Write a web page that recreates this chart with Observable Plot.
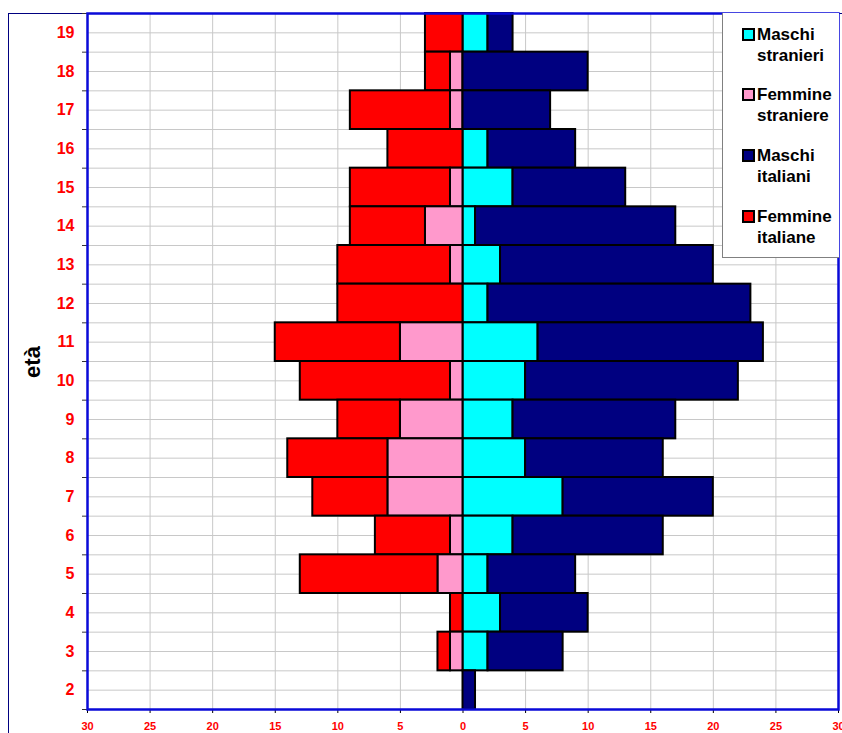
<!DOCTYPE html>
<html>
<head>
<meta charset="utf-8">
<script src="https://cdn.jsdelivr.net/npm/d3@7"></script>
<script src="https://cdn.jsdelivr.net/npm/@observablehq/plot@0.6"></script>
<style>
  html, body { margin: 0; padding: 0; background: #fff; overflow: hidden; }
  #wrap { position: relative; width: 842px; height: 733px; overflow: hidden; font-family: "Liberation Sans", Arial, sans-serif; }
  #outer { position: absolute; left: 8px; top: 13px; width: 900px; height: 800px; border: 1.5px solid #000080; box-sizing: border-box; }
  #chart { position: absolute; left: 0; top: 0; }
  #ytitle { position: absolute; left: 33px; top: 362px; transform: translate(-50%, -50%) rotate(-90deg); font-weight: bold; font-size: 22px; color: #000; white-space: nowrap; }
  #legend { position: absolute; left: 722px; top: 13px; width: 117px; height: 245px; border: 1.5px solid #808080; border-top: none; border-right: none; background: #fff; box-sizing: border-box; }
  .item { position: absolute; left: 34px; font-weight: bold; font-size: 17px; line-height: 21px; color: #000; white-space: nowrap; }
  .sw { position: absolute; width: 13px; height: 13px; border: 2px solid #000; box-sizing: border-box; left: 19px; }
</style>
</head>
<body>
<div id="wrap">
  <div id="outer"></div>
  <div id="chart"></div>
  <div id="ytitle">età</div>
  <div id="legend"></div>
</div>
<script>
// Ages (top to bottom)
const ages = [19, 18, 17, 16, 15, 14, 13, 12, 11, 10, 9, 8, 7, 6, 5, 4, 3, 2];
// Values per age, same order as ages
const maschiStranieri  = [2, 0, 0, 2, 4, 1, 3, 2, 6, 5, 4, 5, 8, 4, 2, 3, 2, 0];
const femmineStraniere = [0, 1, 1, 0, 1, 3, 1, 0, 5, 1, 5, 6, 6, 1, 2, 0, 1, 0];
const maschiItaliani   = [2, 10, 7, 7, 9, 16, 17, 21, 18, 17, 13, 11, 12, 12, 7, 7, 6, 1];
const femmineItaliane  = [3, 2, 8, 6, 8, 6, 9, 10, 10, 12, 5, 8, 6, 6, 11, 1, 1, 0];

const seriesNames = ["Maschi stranieri", "Femmine straniere", "Maschi italiani", "Femmine italiane"];
const seriesColors = ["#00ffff", "#ff99cc", "#000080", "#ff0000"];
const seriesValues = [maschiStranieri, femmineStraniere, maschiItaliani, femmineItaliane];
const seriesSign = [1, -1, 1, -1];

const xTicks = d3.range(-30, 31, 5);
const yBoundaries = d3.range(1.5, 20, 1);
const yGrid = d3.range(1.5, 19.6, 0.5);

const data = [];
ages.forEach((age, i) => {
  seriesNames.forEach((s, k) => {
    const v = seriesValues[k][i];
    if (v > 0) data.push({age, series: s, value: seriesSign[k] * v});
  });
});

const stacked = Plot.stackX({x: "value", y: "age", order: null});

const chart = Plot.plot({
  width: 842,
  height: 733,
  marginLeft: 87,
  marginRight: 4,
  marginTop: 13,
  marginBottom: 24,
  style: {fontFamily: "'Liberation Sans', Arial, sans-serif", background: "transparent"},
  x: {domain: [-30, 30], axis: null},
  y: {domain: [1.5, 19.5], axis: null},
  color: {domain: seriesNames, range: seriesColors},
  marks: [
    Plot.gridX(xTicks, {stroke: "#c8c8c8", strokeOpacity: 1, strokeWidth: 1}),
    Plot.gridY(yGrid, {stroke: "#c8c8c8", strokeOpacity: 1, strokeWidth: 1}),
    Plot.rect(data, {
      ...stacked,
      y1: d => d.age - 0.5,
      y2: d => d.age + 0.5,
      fill: "series",
      stroke: "#000",
      strokeWidth: 2
    }),
    Plot.axisX(xTicks, {
      tickSize: 4, tickPadding: 9, tickFormat: d => Math.abs(d),
      fill: "#ff0000", stroke: "#000", fontSize: 11, fontWeight: "bold", label: null
    }),
    Plot.axisY(ages, {
      tickSize: 0, tickPadding: 13, fill: "#ff0000", fontSize: 16, fontWeight: "bold", label: null
    }),
    Plot.axisY(yBoundaries, {
      tickSize: 5, tickFormat: () => "", stroke: "#333", label: null
    }),
    Plot.frame({stroke: "#0a0ad8", strokeWidth: 2.5})
  ]
});
document.getElementById("chart").appendChild(chart);

// Legend
const legend = document.getElementById("legend");
const legendTops = [11, 71, 132, 193];
seriesNames.forEach((name, k) => {
  const words = name.split(" ");
  const sw = document.createElement("div");
  sw.className = "sw";
  sw.style.top = (legendTops[k] + 4) + "px";
  sw.style.background = seriesColors[k];
  legend.appendChild(sw);
  const it = document.createElement("div");
  it.className = "item";
  it.style.top = legendTops[k] + "px";
  it.innerHTML = words[0] + "<br>" + words[1];
  legend.appendChild(it);
});
</script>
</body>
</html>
